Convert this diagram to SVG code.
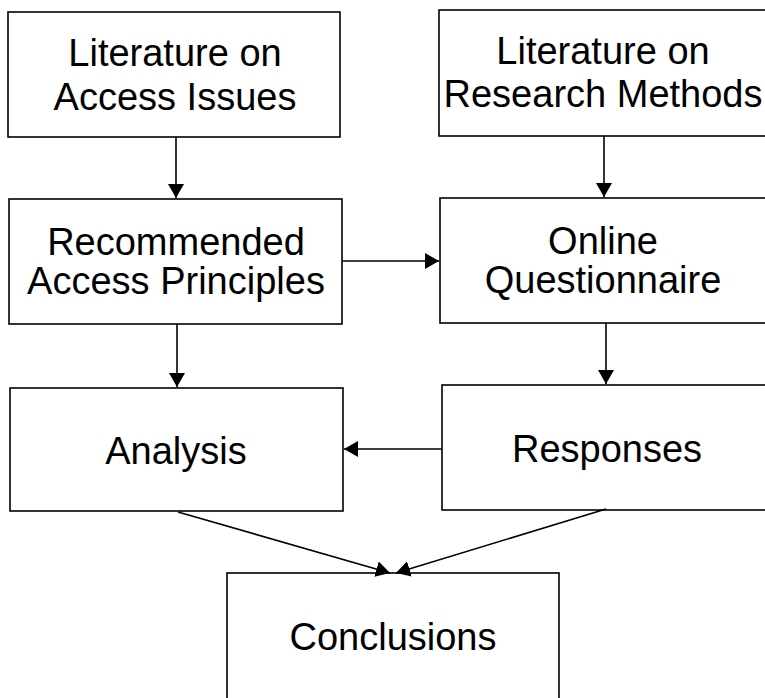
<svg xmlns="http://www.w3.org/2000/svg" width="765" height="698" viewBox="0 0 765 698">
<defs>
<style>
.box{fill:#fff;stroke:#000;stroke-width:1.6}
.lbl{font-family:"Liberation Sans",Arial,sans-serif;font-size:38px;fill:#000;text-anchor:middle}
.conn{stroke:#000;stroke-width:1.6;fill:none}
</style>
<marker id="ah" viewBox="0 0 14 16" refX="14" refY="8" markerWidth="14" markerHeight="16" markerUnits="userSpaceOnUse" orient="auto">
<path d="M0,0 L14,8 L0,16 Z" fill="#000"/>
</marker>
</defs>
<rect width="765" height="698" fill="#fff"/>
<g id="n1"><rect class="box" x="8" y="12" width="332" height="125"/>
<text class="lbl" x="175" y="66">Literature on</text><text class="lbl" x="175" y="110">Access Issues</text></g>
<g id="n2"><rect class="box" x="439" y="10" width="340" height="126"/>
<text class="lbl" x="603" y="64">Literature on</text><text class="lbl" x="603" y="107">Research Methods</text></g>
<g id="n3"><rect class="box" x="9" y="199" width="333" height="125"/>
<text class="lbl" x="176" y="255">Recommended</text><text class="lbl" x="176" y="294">Access Principles</text></g>
<g id="n4"><rect class="box" x="440" y="198" width="340" height="125"/>
<text class="lbl" x="603" y="254">Online</text><text class="lbl" x="603" y="293">Questionnaire</text></g>
<g id="n5"><rect class="box" x="10" y="388" width="333" height="123"/>
<text class="lbl" x="176" y="464">Analysis</text></g>
<g id="n6"><rect class="box" x="442" y="385" width="340" height="125"/>
<text class="lbl" x="607" y="462">Responses</text></g>
<g id="n7"><rect class="box" x="227" y="573" width="332" height="140"/>
<text class="lbl" x="393" y="650">Conclusions</text></g>
<g id="connectors">
<line class="conn" x1="176" y1="137" x2="176" y2="198" marker-end="url(#ah)"/>
<line class="conn" x1="604" y1="136" x2="604" y2="197" marker-end="url(#ah)"/>
<line class="conn" x1="342" y1="261" x2="439" y2="261" marker-end="url(#ah)"/>
<line class="conn" x1="177" y1="324" x2="177" y2="387" marker-end="url(#ah)"/>
<line class="conn" x1="606" y1="323" x2="606" y2="384" marker-end="url(#ah)"/>
<line class="conn" x1="442" y1="449" x2="344" y2="449" marker-end="url(#ah)"/>
<line class="conn" x1="178" y1="512" x2="390" y2="573" marker-end="url(#ah)"/>
<line class="conn" x1="606" y1="509" x2="396" y2="573" marker-end="url(#ah)"/>
</g>
</svg>
